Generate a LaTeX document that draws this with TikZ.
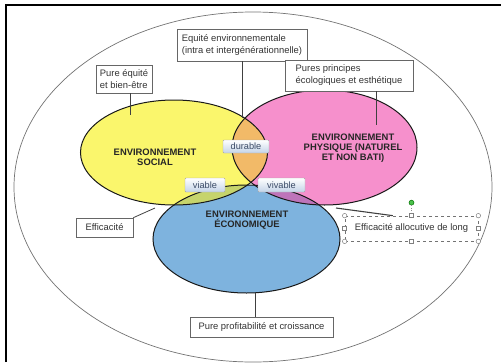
\documentclass[tikz,border=0pt]{standalone}
\usepackage{fontspec}
\setmainfont{Liberation Sans}
\usetikzlibrary{calc,positioning}
\tikzset{>=stealth}
\definecolor{socialyellow}{RGB}{250,246,108}
\definecolor{physpink}{RGB}{246,144,204}
\definecolor{ecoblue}{RGB}{126,179,222}
\definecolor{orangemix}{RGB}{242,186,104}
\definecolor{greenmix}{RGB}{198,212,108}
\definecolor{purplemix}{RGB}{190,116,186}
\definecolor{triplemix}{RGB}{226,172,90}
\definecolor{tagblue}{RGB}{196,212,232}
\definecolor{tagtext}{RGB}{58,74,102}
\tikzset{
  callout/.style={draw=black!60, fill=white, line width=0.6pt, font=\fontsize{9.4}{12}\selectfont, text=black!80, align=left, inner sep=0pt},
  tag/.style={draw=black!35, top color=white, bottom color=tagblue, rounded corners=1pt, font=\fontsize{9.2}{10}\selectfont, text=tagtext, inner sep=0pt},
  envlabel/.style={font=\fontsize{9.4}{10.3}\selectfont\bfseries, text=black!85, align=center},
  handle/.style={circle, draw=black!50, fill=white, inner sep=0pt, minimum size=4.5pt, line width=0.5pt},
  sqhandle/.style={draw=black!50, fill=white, inner sep=0pt, minimum size=4pt, line width=0.5pt},
}

\begin{document}
\begin{tikzpicture}[x=1pt,y=-1pt]
\useasboundingbox (0,0) rectangle (501,362);
% frame and outer ellipse
\draw[line width=2.5pt] (6,362)--(6,5)--(501,5);
\draw[black!55, line width=0.7pt] (253,187) ellipse [x radius=239, y radius=175];

% the three sets
\fill[socialyellow] (174,152.5) ellipse [x radius=93.5, y radius=52.5];
\fill[physpink] (324.5,147.5) ellipse [x radius=92.5, y radius=57.5];
\fill[ecoblue] (246.5,239) ellipse [x radius=93.5, y radius=54];
\begin{scope}
\clip (324.5,147.5) ellipse [x radius=92.5, y radius=57.5];
\fill[purplemix] (246.5,239) ellipse [x radius=93.5, y radius=54];
\end{scope}
\begin{scope}
\clip (174,152.5) ellipse [x radius=93.5, y radius=52.5];
\fill[orangemix] (324.5,147.5) ellipse [x radius=92.5, y radius=57.5];
\fill[greenmix] (246.5,239) ellipse [x radius=93.5, y radius=54];
\clip (324.5,147.5) ellipse [x radius=92.5, y radius=57.5];
\fill[triplemix] (246.5,239) ellipse [x radius=93.5, y radius=54];
\end{scope}
\draw[black!90, line width=1pt] (174,152.5) ellipse [x radius=93.5, y radius=52.5];
\draw[black!90, line width=1pt] (324.5,147.5) ellipse [x radius=92.5, y radius=57.5];
\draw[black!90, line width=1pt] (246.5,239) ellipse [x radius=93.5, y radius=54];

\node[envlabel] (social) at (155,157) {ENVIRONNEMENT\\SOCIAL};
\node[envlabel] (physique) at (353,148) {ENVIRONNEMENT\\PHYSIQUE (NATUREL\\ET NON BATI)};
\node[envlabel] (economique) at (247,220) {ENVIRONNEMENT\\ÉCONOMIQUE};

\node[tag, minimum width=46pt, minimum height=13pt] (durable) at (246,146.5) {durable};
\node[tag, minimum width=40pt, minimum height=14pt] (viable) at (205,185) {viable};
\node[tag, minimum width=47pt, minimum height=14pt] (vivable) at (281.5,185) {vivable};

% callouts
\coordinate (equitept) at (242,118);
\coordinate (pureept) at (130,115);
\coordinate (puresept) at (376,125);
\coordinate (efficpt) at (155,208);
\coordinate (allocpt) at (336,208);
\coordinate (profitpt) at (255,293);

\node[callout, minimum width=130pt, minimum height=32pt] (equite) at (242,45) {Equité environnementale\\(intra et intergénérationnelle)};
\node[callout, minimum width=56pt, minimum height=28pt] (puree) at (124,79) {Pure équité\\et bien-être};
\node[callout, minimum width=128pt, minimum height=31pt] (pures) at (349,75.5) {Pures principes\\écologiques et esthétique};
\node[callout, minimum width=57pt, minimum height=19pt] (effic) at (104.5,227.5) {Efficacité};
\node[callout, minimum width=143pt, minimum height=20pt] (profit) at (261.5,327) {Pure profitabilité et croissance};
\draw[black!75, line width=0.8pt] (equite.south -| equitept)--(equitept);
\draw[black!75, line width=0.8pt] (puree.south -| pureept)--(pureept);
\draw[black!75, line width=0.8pt] (pures.south -| puresept)--(puresept);
\draw[black!75, line width=0.8pt] (effic.north east)--(efficpt);
\draw[black!75, line width=0.8pt] (profit.north -| profitpt)--(profitpt);

% selected text box
\node[draw=black!55, dashed, line width=0.7pt, minimum width=133pt, minimum height=25pt, font=\fontsize{9.4}{10}\selectfont, text=black!80] (alloc) at (411.5,228.5) {Efficacité allocutive de long};
\draw[black!75, line width=1.1pt] (allocpt)--($(alloc.north west)!0.36!(alloc.north east)$);
\node[handle, fill=green!65!black!70, draw=green!45!black, minimum size=5pt] (rotate) at ($(alloc.north)+(0,-13)$) {};
\draw[black!45, dotted] (rotate)--(alloc.north);
\foreach \a in {north west,north east,south west,south east}
  \node[handle] at (alloc.\a) {};
\foreach \a in {north,south,west,east}
  \node[sqhandle] at (alloc.\a) {};
\end{tikzpicture}
\end{document}
